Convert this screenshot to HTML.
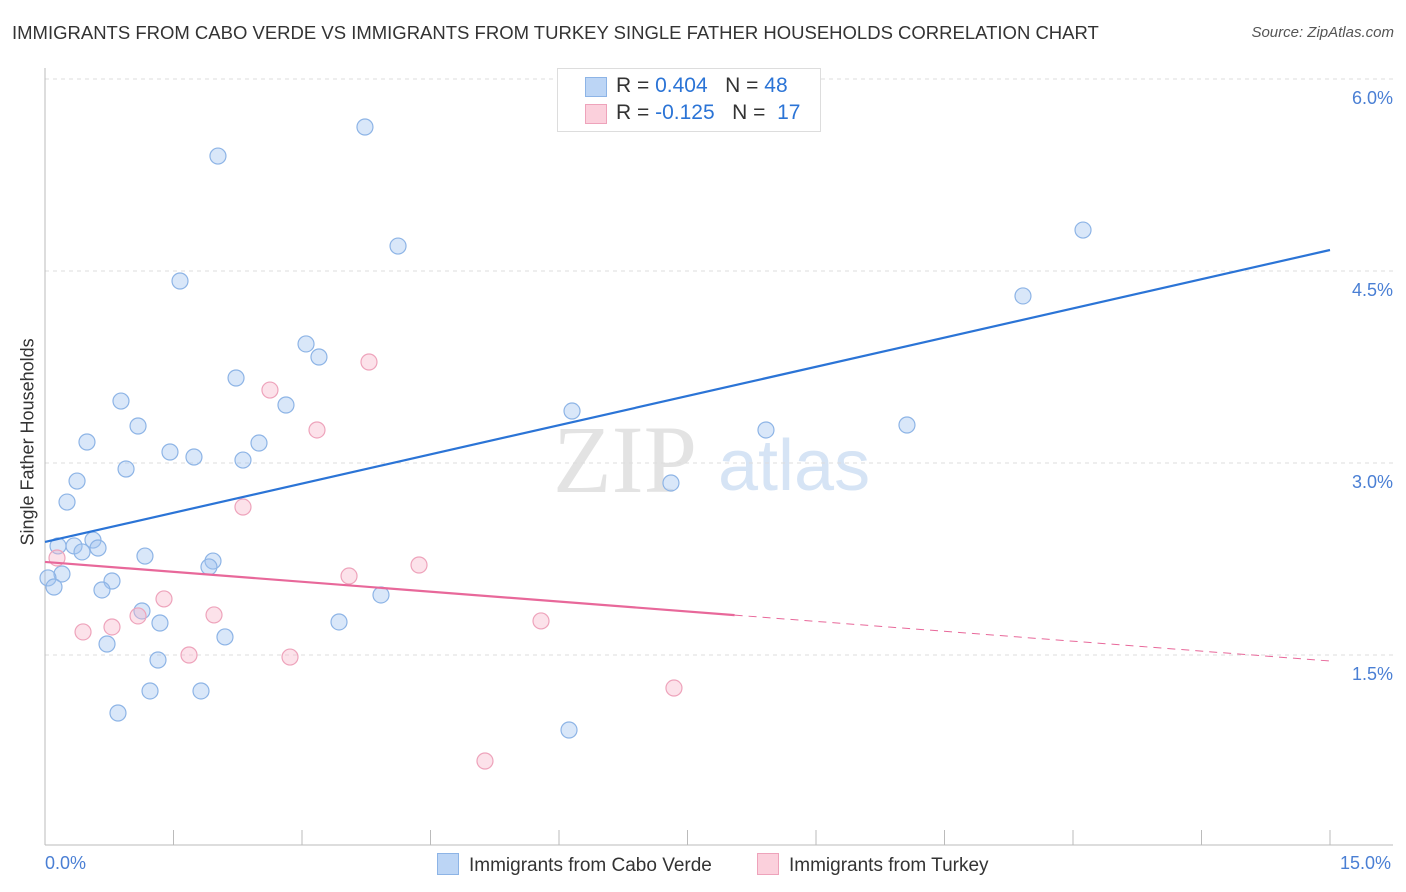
<!DOCTYPE html>
<html><head><meta charset="utf-8"><style>
body{margin:0;background:#fff;font-family:"Liberation Sans",sans-serif;}
#wrap{position:relative;width:1406px;height:892px;overflow:hidden;}
.t{position:absolute;white-space:nowrap;}
</style></head><body>
<div id="wrap">
<div class="t" style="left:12px;top:22px;font-size:18.5px;color:#333;">IMMIGRANTS FROM CABO VERDE VS IMMIGRANTS FROM TURKEY SINGLE FATHER HOUSEHOLDS CORRELATION CHART</div>
<div class="t" style="right:12px;top:24px;font-size:15px;color:#555;font-style:italic;">Source: ZipAtlas.com</div>
<svg id="svg" width="1406" height="892" style="position:absolute;left:0;top:0"></svg>
</div>
<script>
const xTicks=["0.0%","15.0%"];
const yTicks=[1.5,3.0,4.5,6.0];
const blueX=[3.735,2.019,4.121,1.576,12.117,11.416,3.047,3.198,2.230,0.887,2.813,6.152,1.086,0.490,2.498,1.459,1.739,2.311,0.946,10.062,8.416,0.374,0.257,7.307,0.560,0.152,0.339,0.619,0.432,1.167,1.961,1.914,0.198,0.035,0.782,0.105,0.665,3.922,1.132,1.342,3.432,2.101,0.724,1.319,1.226,1.821,0.852,6.117];
const blueY=[5.625,5.398,4.695,4.422,4.820,4.305,3.930,3.828,3.664,3.484,3.453,3.406,3.289,3.164,3.156,3.086,3.047,3.023,2.953,3.297,3.258,2.859,2.695,2.844,2.398,2.352,2.352,2.336,2.305,2.273,2.234,2.188,2.133,2.102,2.078,2.031,2.008,1.969,1.844,1.750,1.758,1.641,1.586,1.461,1.219,1.219,1.047,0.914];
const pinkX=[0.140,2.626,3.782,3.175,2.311,4.366,3.549,1.389,1.973,1.086,0.782,0.444,5.790,1.681,2.860,7.342,5.136];
const pinkY=[2.258,3.570,3.789,3.258,2.656,2.203,2.117,1.938,1.813,1.805,1.719,1.680,1.766,1.500,1.484,1.242,0.672];
const blueLine=[2.383,4.664];
const pinkLine=[2.227,1.453];
const pinkSolidEnd=8.05;
const X=v=>45+v/15*1285;
const Y=v=>847-v*128;
const svg=document.getElementById('svg');
const NS='http://www.w3.org/2000/svg';
function mk(t,a){const e=document.createElementNS(NS,t);for(const k in a)e.setAttribute(k,a[k]);svg.appendChild(e);return e;}
let w=mk('text',{x:553,y:492,'font-size':96,fill:'#e3e3e3','font-family':'Liberation Serif, serif'});w.textContent='ZIP';

w=mk('text',{x:718,y:490,'font-size':72,fill:'#d6e4f5','font-family':'Liberation Sans, sans-serif'});w.textContent='atlas';

yTicks.forEach(v=>{
 let g=mk('line',{x1:45,x2:1393,y1:Y(v),y2:Y(v),stroke:'#ddd','stroke-dasharray':'4,4'});
 
 let t=mk('text',{x:1393,y:Y(v)+25,'text-anchor':'end','font-size':18,fill:'#4a7fd4'});t.textContent=v.toFixed(1)+'%';
 
});
let ax=mk('line',{x1:45,x2:45,y1:68,y2:845,stroke:'#bbb'});
ax=mk('line',{x1:45,x2:1393,y1:845,y2:845,stroke:'#bbb'});
for(let i=0;i<=10;i++){let tk=mk('line',{x1:X(i*1.5),x2:X(i*1.5),y1:830,y2:845,stroke:'#bbb'});}
blueX.forEach((v,i)=>{let c=mk('circle',{cx:X(v),cy:Y(blueY[i]),r:8,fill:'rgba(160,196,240,0.4)',stroke:'#8db4e6','stroke-width':1.2});
 });
pinkX.forEach((v,i)=>{let c=mk('circle',{cx:X(v),cy:Y(pinkY[i]),r:8,fill:'rgba(248,182,202,0.4)',stroke:'#eea3bb','stroke-width':1.2});
 });
let l=mk('line',{x1:X(0),y1:Y(blueLine[0]),x2:X(15),y2:Y(blueLine[1]),stroke:'#2b74d6','stroke-width':2.2});

const py=x=>pinkLine[0]+(pinkLine[1]-pinkLine[0])*x/15;
l=mk('line',{x1:X(0),y1:Y(py(0)),x2:X(pinkSolidEnd),y2:Y(py(pinkSolidEnd)),stroke:'#e8689a','stroke-width':2.2});

l=mk('line',{x1:X(pinkSolidEnd),y1:Y(py(pinkSolidEnd)),x2:X(15),y2:Y(py(15)),stroke:'#e8689a','stroke-width':1,'stroke-dasharray':'8,6'});

</script>
<div class="t" style="left:-62px;top:445px;transform:rotate(-90deg);font-size:18px;color:#333;width:180px;text-align:center;">Single Father Households</div>
<div class="t" style="left:45px;top:853px;font-size:18px;color:#4a7fd4;">0.0%</div>
<div class="t" style="left:1340px;top:853px;font-size:18px;color:#4a7fd4;">15.0%</div>
<div style="position:absolute;left:557px;top:68px;width:262px;height:62px;border:1px solid #ddd;background:#fff;font-size:21px;color:#333;">
 <div style="position:absolute;left:27px;top:8px;width:20px;height:18px;background:#bcd5f5;border:1px solid #8db4e6;"></div>
 <div class="t" style="left:58px;top:5px;">R = <span style="color:#2b74d6">0.404</span>&nbsp;&nbsp;&nbsp;N = <span style="color:#2b74d6">48</span></div>
 <div style="position:absolute;left:27px;top:35px;width:20px;height:18px;background:#fbd0dc;border:1px solid #eea3bb;"></div>
 <div class="t" style="left:58px;top:32px;">R = <span style="color:#2b74d6">-0.125</span>&nbsp;&nbsp;&nbsp;N = &nbsp;<span style="color:#2b74d6">17</span></div>
</div>
<div style="position:absolute;left:437px;top:853px;font-size:19px;color:#333;">
 <span style="display:inline-block;width:20px;height:20px;background:#bcd5f5;border:1px solid #8db4e6;vertical-align:-4px;margin-right:10px;"></span>Immigrants from Cabo Verde</div>
<div style="position:absolute;left:757px;top:853px;font-size:19px;color:#333;">
 <span style="display:inline-block;width:20px;height:20px;background:#fbd0dc;border:1px solid #eea3bb;vertical-align:-4px;margin-right:10px;"></span>Immigrants from Turkey</div>
</body></html>
